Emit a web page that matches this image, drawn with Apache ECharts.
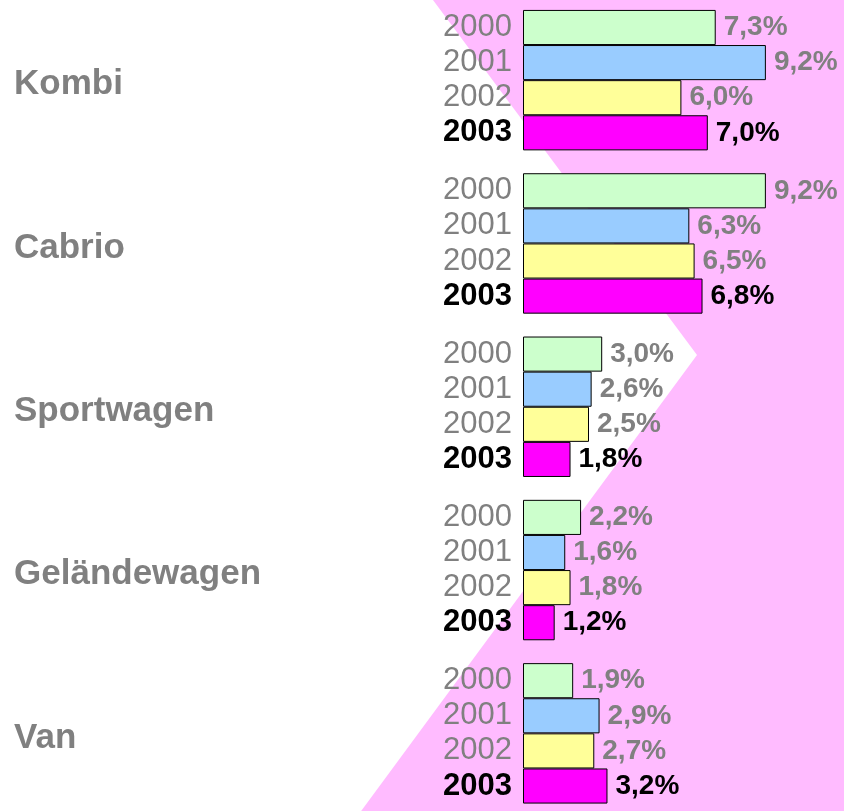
<!DOCTYPE html>
<html>
<head>
<meta charset="utf-8">
<script src="https://cdn.jsdelivr.net/npm/echarts@6/dist/echarts.min.js"></script>
<style>
html,body{margin:0;padding:0;background:#fff;overflow:hidden;width:844px;height:811px;}
#chart{position:absolute;left:0;top:-2px;width:844px;height:820px;}
</style>
</head>
<body>
<div id="chart"></div>
<script>
const categories = ['Kombi', 'Cabrio', 'Sportwagen', 'Geländewagen', 'Van'];
const years = ['2000', '2001', '2002', '2003'];
const values2000 = [7.3, 9.2, 3.0, 2.2, 1.9];
const values2001 = [9.2, 6.3, 2.6, 1.6, 2.9];
const values2002 = [6.0, 6.5, 2.5, 1.8, 2.7];
const values2003 = [7.0, 6.8, 1.8, 1.2, 3.2];
const seriesValues = [values2000, values2001, values2002, values2003];
const barColors = ['#CCFFCC', '#99CCFF', '#FFFF99', '#FF00FF'];

const FONT = "'Liberation Sans', Arial, sans-serif";
const fmt = v => v.toFixed(1).replace('.', ',') + '%';

const series = [];
years.forEach((yr, i) => {
  const last = i === years.length - 1;
  // zero-width carrier for the year label, sharing the slot of the real bar
  series.push({
    type: 'bar',
    name: yr + '-label',
    stack: 's' + yr,
    data: seriesValues[i].map(() => 0),
    itemStyle: { color: 'rgba(0,0,0,0)', borderWidth: 0 },
    silent: true,
    barGap: 0,
    barCategoryGap: '14%',
    label: {
      show: true,
      position: 'left',
      distance: 11,
      formatter: () => yr,
      fontFamily: FONT,
      fontSize: 31,
      fontWeight: last ? 'bold' : 'normal',
      color: last ? '#000000' : '#808080'
    }
  });
  series.push({
    type: 'bar',
    name: yr,
    stack: 's' + yr,
    data: seriesValues[i],
    barGap: 0,
    barCategoryGap: '14%',
    itemStyle: { color: barColors[i], borderColor: '#000000', borderWidth: 1 },
    label: {
      show: true,
      position: 'right',
      distance: 8,
      formatter: p => fmt(p.value),
      fontFamily: FONT,
      fontSize: 28,
      fontWeight: 'bold',
      color: last ? '#000000' : '#808080'
    }
  });
});

const chart = echarts.init(document.getElementById('chart'), null, { renderer: 'canvas' });
chart.setOption({
  backgroundColor: '#ffffff',
  animation: false,
  graphic: [{
    type: 'polygon',
    z: -10,
    silent: true,
    shape: { points: [[431.5, 0], [844, 0], [844, 820], [356, 820], [697, 357]] },
    style: { fill: '#FFBBFF' }
  }],
  grid: { left: 523, top: 0.5, height: 816.5, width: 264, containLabel: false },
  xAxis: { type: 'value', min: 0, max: 10, show: false },
  yAxis: {
    type: 'category',
    data: categories,
    inverse: true,
    axisLine: { show: false },
    axisTick: { show: false },
    splitLine: { show: false },
    axisLabel: {
      margin: 509,
      align: 'left',
      formatter: v => '{c|' + v + '}',
      rich: {
        c: {
          padding: [9, 0, 0, 0],
          fontFamily: FONT,
          fontSize: 35,
          fontWeight: 'bold',
          color: '#808080'
        }
      },
      fontFamily: FONT,
      fontSize: 35,
      fontWeight: 'bold',
      color: '#808080'
    }
  },
  series: series
});
</script>
</body>
</html>
